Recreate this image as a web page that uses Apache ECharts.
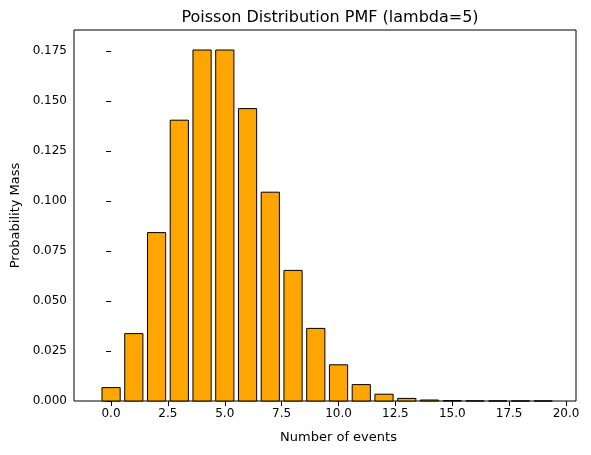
<!DOCTYPE html>
<html>
<head>
<meta charset="utf-8">
<script src="https://cdn.jsdelivr.net/npm/echarts@6/dist/echarts.min.js"></script>
<style>html,body{margin:0;padding:0;background:#fff}#c{width:591px;height:455px}</style>
</head>
<body>
<div id="c"></div>
<script>
// k values and probability mass
const events = [0, 1, 2, 3, 4, 5, 6, 7, 8, 9, 10, 11, 12, 13, 14, 15, 16, 17, 18, 19];
const pmf = [0.0067, 0.0337, 0.0842, 0.1404, 0.1755, 0.1755, 0.1462, 0.1044, 0.0653, 0.0363,
  0.0181, 0.0082, 0.0034, 0.0013, 0.0005, 0.0002, 0.00005, 0.00001, 0.000004, 0.000001];

const font = 'DejaVu Sans';
const chart = echarts.init(document.getElementById('c'));
chart.setOption({
  animation: false,
  title: {
    text: 'Poisson Distribution PMF (lambda=5)', left: 325, top: 5, textAlign: 'center',
    textStyle: { fontFamily: font, fontSize: 16, fontWeight: 'normal', color: '#000' }
  },
  grid: [
    { left: 74, right: 15, top: 30, bottom: 54, show: true, borderColor: '#000', borderWidth: 1 },
    { left: 111, right: 25, top: 30, bottom: 54, show: false }
  ],
  xAxis: [
    { gridIndex: 0, type: 'value', min: -1.63, max: 20.44, show: false },
    {
      gridIndex: 1, type: 'value', min: 0, max: 20, interval: 2.5, position: 'bottom',
      name: 'Number of events', nameLocation: 'middle', nameGap: 30,
      nameTextStyle: { fontFamily: font, fontSize: 13, color: '#000' },
      axisLine: { show: false }, splitLine: { show: false },
      axisTick: { length: 5, lineStyle: { color: '#000' } },
      axisLabel: { fontFamily: font, fontSize: 12, color: '#000', margin: 7,
        formatter: v => v.toFixed(1) }
    }
  ],
  yAxis: [
    {
      gridIndex: 0, type: 'value', min: 0, max: 0.1855, interval: 0.025,
      name: 'Probability Mass', nameLocation: 'middle', nameGap: 52,
      nameTextStyle: { fontFamily: font, fontSize: 13, color: '#000' },
      axisLine: { show: false }, splitLine: { show: false },
      axisTick: { show: true, length: 5, lineStyle: { color: '#000' } },
      axisLabel: { fontFamily: font, fontSize: 12, color: '#000', margin: 7,
        formatter: v => v.toFixed(3),
        showMaxLabel: false }
    },
    { gridIndex: 1, type: 'value', show: false }
  ],
  series: [{
    type: 'custom',
    xAxisIndex: 0, yAxisIndex: 0,
    data: events.map((k, i) => [k, pmf[i]]),
    renderItem: (params, api) => {
      const k = api.value(0), p = api.value(1);
      const a = api.coord([k - 0.4, p]);
      const b = api.coord([k + 0.4, 0]);
      return {
        type: 'rect',
        shape: { x: a[0], y: a[1], width: b[0] - a[0], height: b[1] - a[1] },
        style: { fill: '#ffa500', stroke: '#000', lineWidth: 1 }
      };
    }
  }]
});
</script>
</body>
</html>
